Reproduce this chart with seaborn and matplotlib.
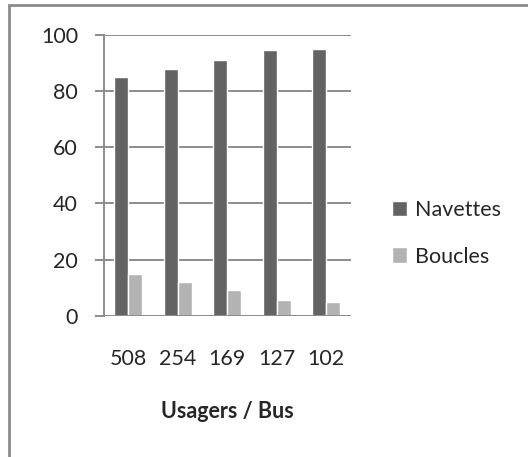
import matplotlib
matplotlib.use("Agg")
import matplotlib.pyplot as plt
from matplotlib.lines import Line2D
from matplotlib.patches import Patch
import seaborn as sns
import pandas as pd

# Data
CATEGORIES = ["508", "254", "169", "127", "102"]
NAVETTES = [85, 88, 91, 94.5, 95]
BOUCLES = [15, 12, 9, 5.5, 5]
SERIES = ["Navettes", "Boucles"]
Y_TICKS = [0, 20, 40, 60, 80, 100]

DARK = "#636363"
LIGHT = "#B3B3B3"
GRID = "#8C8C8C"
FS = 15.5

sns.set_theme(style="white")
plt.rcParams["font.family"] = ["Lato", "DejaVu Sans"]

df = pd.DataFrame({
    "bus": CATEGORIES * 2,
    "value": NAVETTES + BOUCLES,
    "serie": [SERIES[0]] * len(CATEGORIES) + [SERIES[1]] * len(CATEGORIES),
})

fig = plt.figure(figsize=(5.28, 4.57), dpi=100)
ax = fig.add_axes([0.1964, 0.3092, 0.4678, 0.6142])

sns.barplot(data=df, x="bus", y="value", hue="serie", order=CATEGORIES,
            hue_order=SERIES, palette=[DARK, LIGHT], width=0.567,
            saturation=1, ax=ax, legend=False)

ax.set_ylim(0, 100)
ax.set_xlim(-0.5, len(CATEGORIES) - 0.5)
ax.set_yticks(Y_TICKS)
ax.yaxis.grid(True, color=GRID, linewidth=1.4)
ax.set_axisbelow(True)

for side in ["top", "right", "bottom"]:
    ax.spines[side].set_visible(False)
ax.spines["left"].set_color(GRID)
ax.spines["left"].set_linewidth(1.4)

ax.tick_params(axis="y", which="major", length=6.5, width=1.4, color=GRID,
               labelsize=FS, pad=12, left=True)
ax.tick_params(axis="x", length=0, labelsize=FS, pad=24)

ax.set_xlabel("Usagers / Bus", fontsize=FS, fontweight="bold", labelpad=23)
ax.set_ylabel("")

# baseline extends left like the gridline ticks
ax.axhline(0, color=GRID, linewidth=1.4, zorder=1)

handles = [Patch(facecolor=DARK, label=SERIES[0]),
           Patch(facecolor=LIGHT, label=SERIES[1])]
fig.legend(handles=handles, loc="center left", bbox_to_anchor=(0.705, 0.49),
           frameon=False, fontsize=FS, handlelength=0.7, handleheight=0.7,
           handletextpad=0.4, labelspacing=1.25)

# partial chart border (left and top)
fig.add_artist(Line2D([8.5 / 528, 8.5 / 528], [0, 1 - 5 / 457],
                      transform=fig.transFigure, color="#8C8C8C", linewidth=2))
fig.add_artist(Line2D([8.5 / 528, 1], [1 - 5 / 457, 1 - 5 / 457],
                      transform=fig.transFigure, color="#8C8C8C", linewidth=2))

fig.savefig("out.png", dpi=100)
